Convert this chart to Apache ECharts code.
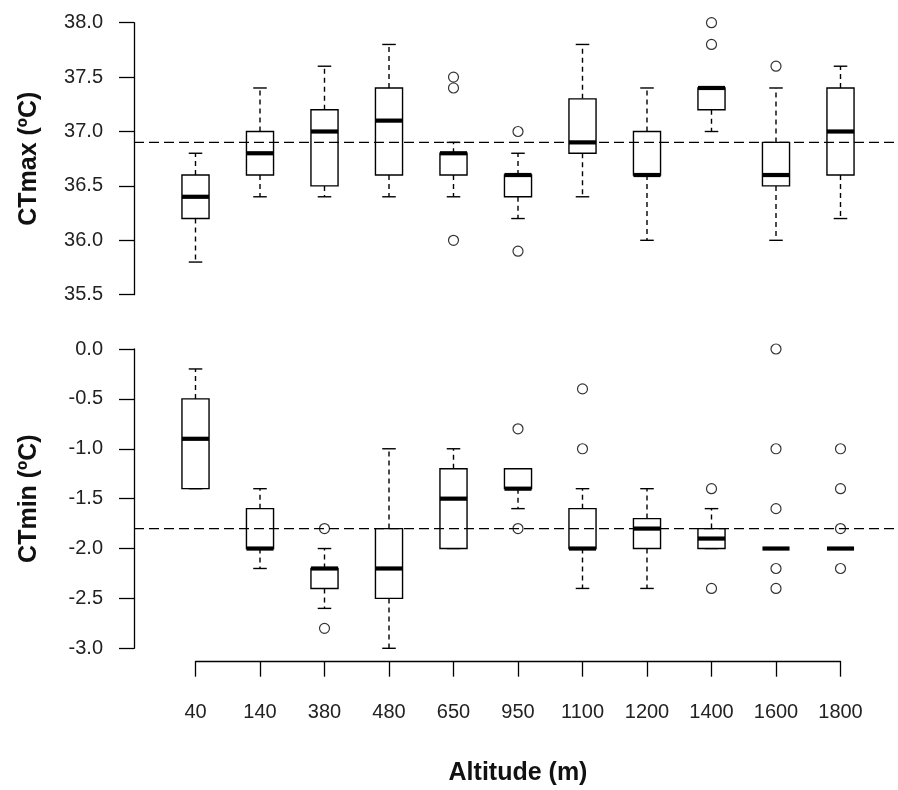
<!DOCTYPE html>
<html>
<head>
<meta charset="utf-8">
<script src="https://cdn.jsdelivr.net/npm/echarts@6/dist/echarts.min.js"></script>
<style>
html,body{margin:0;padding:0;background:#fff;}
#chart{width:898px;height:790px;}
</style>
</head>
<body>
<div id="chart"></div>
<script>
// ---- data ----
const categories = ['40','140','380','480','650','950','1100','1200','1400','1600','1800'];
// each row: [lower whisker, Q1, median, Q3, upper whisker]
const ctmaxBoxes = [
  [35.8, 36.2, 36.4, 36.6, 36.8],
  [36.4, 36.6, 36.8, 37.0, 37.4],
  [36.4, 36.5, 37.0, 37.2, 37.6],
  [36.4, 36.6, 37.1, 37.4, 37.8],
  [36.4, 36.6, 36.8, 36.8, 36.9],
  [36.2, 36.4, 36.6, 36.6, 36.8],
  [36.4, 36.8, 36.9, 37.3, 37.8],
  [36.0, 36.6, 36.6, 37.0, 37.4],
  [37.0, 37.2, 37.4, 37.4, 37.4],
  [36.0, 36.5, 36.6, 36.9, 37.4],
  [36.2, 36.6, 37.0, 37.4, 37.6]
];
const ctmaxOutliers = [
  [4, 37.5], [4, 37.4], [4, 36.0],
  [5, 37.0], [5, 35.9],
  [8, 38.0], [8, 37.8],
  [9, 37.6]
];
const ctminBoxes = [
  [-1.4, -1.4, -0.9, -0.5, -0.2],
  [-2.2, -2.0, -2.0, -1.6, -1.4],
  [-2.6, -2.4, -2.2, -2.2, -2.0],
  [-3.0, -2.5, -2.2, -1.8, -1.0],
  [-2.0, -2.0, -1.5, -1.2, -1.0],
  [-1.6, -1.4, -1.4, -1.2, -1.2],
  [-2.4, -2.0, -2.0, -1.6, -1.4],
  [-2.4, -2.0, -1.8, -1.7, -1.4],
  [-2.0, -2.0, -1.9, -1.8, -1.6],
  [-2.0, -2.0, -2.0, -2.0, -2.0],
  [-2.0, -2.0, -2.0, -2.0, -2.0]
];
const ctminOutliers = [
  [2, -1.8], [2, -2.8],
  [5, -0.8], [5, -1.8],
  [6, -0.4], [6, -1.0],
  [8, -1.4], [8, -2.4],
  [9, 0.0], [9, -1.0], [9, -1.6], [9, -2.2], [9, -2.4],
  [10, -1.0], [10, -1.4], [10, -1.8], [10, -2.2]
];
const ctmaxRef = 36.9;
const ctminRef = -1.8;
const ctmaxTicks = {min: 35.5, max: 38.0, interval: 0.5};
const ctminTicks = {min: -3.0, max: 0.0, interval: 0.5};

// ---- styling ----
const FONT = "'Liberation Sans', Arial, sans-serif";
const Y_OFFSET = 61.5;
const chart = echarts.init(document.getElementById('chart'), null, {renderer: 'canvas'});

function boxRender(params, api) {
  const i = api.value(0);
  const mn = api.value(1), q1 = api.value(2), md = api.value(3), q3 = api.value(4), mx = api.value(5);
  const band = api.size([1, 0])[0];
  const hw = band * 0.21;
  const cw = hw * 0.5;
  const x = api.coord([i, md])[0];
  const y = v => api.coord([i, v])[1];
  const blk = {stroke: '#000', lineWidth: 1.4};
  const dash = {stroke: '#000', lineWidth: 1.4, lineDash: [5, 4]};
  const children = [];
  if (mx > q3) children.push({type: 'line', shape: {x1: x, y1: y(q3), x2: x, y2: y(mx)}, style: dash});
  if (mn < q1) children.push({type: 'line', shape: {x1: x, y1: y(q1), x2: x, y2: y(mn)}, style: dash});
  children.push({type: 'line', shape: {x1: x - cw, y1: y(mx), x2: x + cw, y2: y(mx)}, style: blk});
  children.push({type: 'line', shape: {x1: x - cw, y1: y(mn), x2: x + cw, y2: y(mn)}, style: blk});
  if (q3 > q1) {
    children.push({type: 'rect', shape: {x: x - hw, y: y(q3), width: 2 * hw, height: y(q1) - y(q3)},
      style: {fill: '#fff', stroke: '#000', lineWidth: 1.4}});
  }
  children.push({type: 'line', shape: {x1: x - hw, y1: y(md), x2: x + hw, y2: y(md)},
    style: {stroke: '#000', lineWidth: 4.2}});
  return {type: 'group', children: children};
}

function refRender(params, api) {
  const yy = api.coord([0, api.value(1)])[1];
  const cs = params.coordSys;
  return {type: 'line', shape: {x1: cs.x - Y_OFFSET, y1: yy, x2: cs.x + cs.width + 200, y2: yy},
    style: {stroke: '#000', lineWidth: 1.4, lineDash: [10, 5]}};
}

function yAxisCfg(name, ticks, gridIndex) {
  return {
    type: 'value', gridIndex: gridIndex, min: ticks.min, max: ticks.max, interval: ticks.interval,
    offset: Y_OFFSET,
    name: name, nameLocation: 'middle', nameGap: 92,
    nameTextStyle: {fontFamily: FONT, fontWeight: 'bold', fontSize: 25, color: '#111'},
    axisLine: {show: true, onZero: false, lineStyle: {color: '#000', width: 1.3}},
    axisTick: {show: true, length: 15, lineStyle: {color: '#000', width: 1.3}},
    axisLabel: {margin: 31, fontFamily: FONT, fontSize: 20, color: '#222',
      formatter: v => v.toFixed(1)},
    splitLine: {show: false}
  };
}

const option = {
  backgroundColor: '#fff',
  animation: false,
  grid: [
    {left: 195.5, right: 57.5, top: 22.7, height: 272},
    {left: 195.5, right: 57.5, top: 349, height: 299.3}
  ],
  xAxis: [
    {type: 'category', gridIndex: 0, data: categories, boundaryGap: false, show: false,
      axisLine: {onZero: false}},
    {type: 'category', gridIndex: 1, data: categories, boundaryGap: false, offset: 13.4,
      position: 'bottom',
      name: 'Altitude (m)', nameLocation: 'middle', nameGap: 99,
      nameTextStyle: {fontFamily: FONT, fontWeight: 'bold', fontSize: 25, color: '#111'},
      axisLine: {show: true, onZero: false, lineStyle: {color: '#000', width: 1.3}},
      axisTick: {show: true, length: 15, interval: 0, lineStyle: {color: '#000', width: 1.3}},
      axisLabel: {interval: 0, margin: 41, fontFamily: FONT, fontSize: 20, color: '#222'},
      splitLine: {show: false}}
  ],
  yAxis: [
    yAxisCfg('CTmax (ºC)', ctmaxTicks, 0),
    yAxisCfg('CTmin (ºC)', ctminTicks, 1)
  ],
  series: [
    {type: 'custom', xAxisIndex: 0, yAxisIndex: 0, renderItem: boxRender, clip: false,
      encode: {x: 0, y: [1, 2, 3, 4, 5]},
      data: ctmaxBoxes.map((b, i) => [i].concat(b)), z: 2},
    {type: 'custom', xAxisIndex: 1, yAxisIndex: 1, renderItem: boxRender, clip: false,
      encode: {x: 0, y: [1, 2, 3, 4, 5]},
      data: ctminBoxes.map((b, i) => [i].concat(b)), z: 2},
    {type: 'scatter', xAxisIndex: 0, yAxisIndex: 0, data: ctmaxOutliers, clip: false,
      symbol: 'circle', symbolSize: 10,
      itemStyle: {color: 'rgba(0,0,0,0)', borderColor: '#000', borderWidth: 1.2}, z: 3},
    {type: 'scatter', xAxisIndex: 1, yAxisIndex: 1, data: ctminOutliers, clip: false,
      symbol: 'circle', symbolSize: 10,
      itemStyle: {color: 'rgba(0,0,0,0)', borderColor: '#000', borderWidth: 1.2}, z: 3},
    {type: 'custom', xAxisIndex: 0, yAxisIndex: 0, renderItem: refRender, clip: false,
      encode: {x: 0, y: 1}, data: [[0, ctmaxRef]], z: 4},
    {type: 'custom', xAxisIndex: 1, yAxisIndex: 1, renderItem: refRender, clip: false,
      encode: {x: 0, y: 1}, data: [[0, ctminRef]], z: 4}
  ]
};
chart.setOption(option);
</script>
</body>
</html>
